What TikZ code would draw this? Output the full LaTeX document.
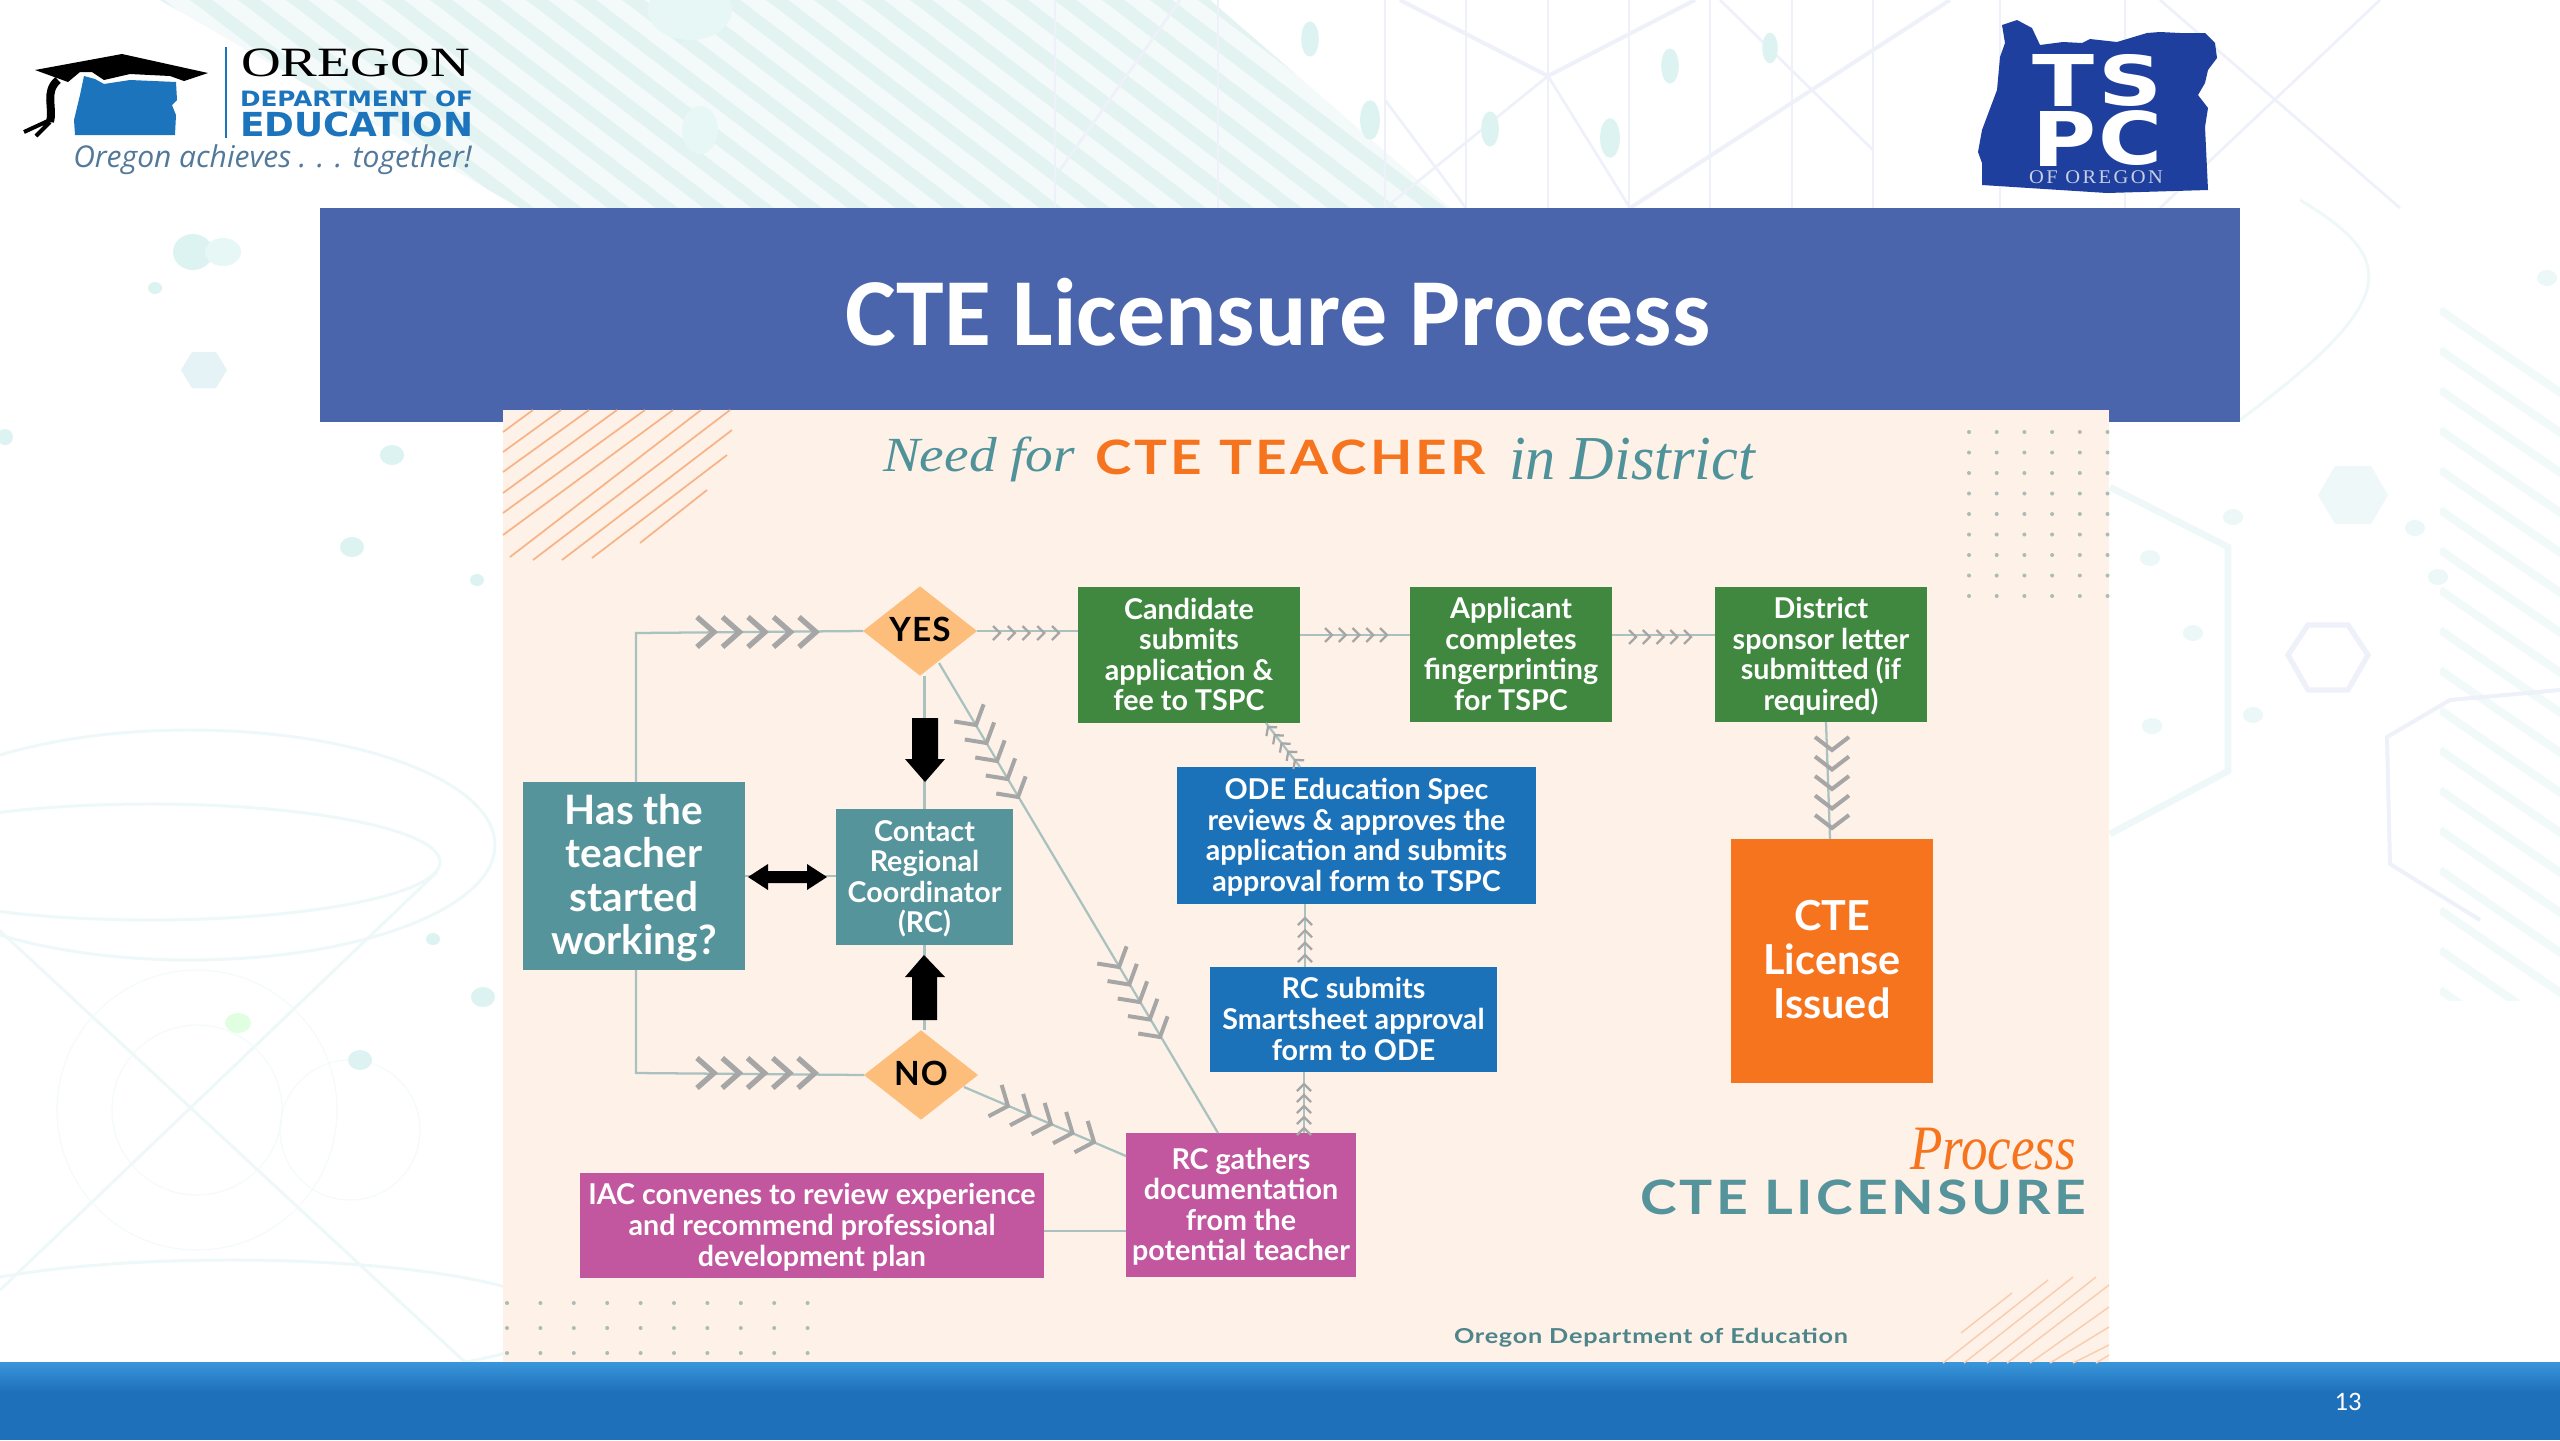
\documentclass[tikz,border=0pt]{standalone}
\usepackage{fontspec}
\usepackage{graphicx}
\usetikzlibrary{shapes.geometric,calc}
\setmainfont{Lato}
\newfontfamily\carlito{Carlito}
\newfontfamily\latowide{Lato}[LetterSpace=6]
\newfontfamily\latomid{Lato}[LetterSpace=3]
\newfontfamily\libserif{Liberation Serif}
\newfontfamily\opensans{Open Sans}
\newfontfamily\dejavu{DejaVu Sans}
\newfontfamily\serifwide{Liberation Serif}[LetterSpace=12]
\definecolor{bandblue}{HTML}{4A65AB}
\definecolor{cream}{HTML}{FDF1E8}
\definecolor{tealbox}{HTML}{56949B}
\definecolor{greenbox}{HTML}{40883F}
\definecolor{bluebox}{HTML}{1B72B9}
\definecolor{magbox}{HTML}{C2579F}
\definecolor{orangebox}{HTML}{F7741F}
\definecolor{diam}{HTML}{FDBE7C}
\definecolor{linkc}{HTML}{A9C2BF}
\definecolor{chevc}{HTML}{A6A6A6}
\definecolor{hatchA}{HTML}{F8B386}
\definecolor{hatchB}{HTML}{F9CDB0}
\definecolor{dotc}{HTML}{A9BDB6}
\definecolor{barA}{HTML}{3A96DA}
\definecolor{barB}{HTML}{1E70BA}
\definecolor{odeblue}{HTML}{1C74BC}
\definecolor{tspc}{HTML}{1E3F9E}
\definecolor{tagc}{HTML}{52799A}
\definecolor{stripe}{HTML}{E2F3F1}
\definecolor{stripeb}{HTML}{F4FAF9}
\definecolor{bgline}{HTML}{EEF8F8}
\definecolor{bgblob}{HTML}{DDF3F2}
\definecolor{bglav}{HTML}{EEF1FA}
\definecolor{tealtext}{HTML}{4F9299}
\newcommand{\boxn}[7]{%
  \pgfmathsetmacro{\bw}{(#4-#2)*0.75}%
  \pgfmathsetmacro{\bh}{(#5-#3)*0.75}%
  \node[#6,minimum width=\bw pt,minimum height=\bh pt] (#1) at ({(#2+#4)/2},{(#3+#5)/2}) {#7};}
\newcommand{\fittext}[7]{%
  \pgfmathsetmacro{\bw}{(#4-#2)*0.75}%
  \pgfmathsetmacro{\bh}{(#5-#3)*0.75}%
  \node[inner sep=0pt,outer sep=0pt,anchor=north west,#6] (#1) at (#2,#3) {\resizebox*{\bw pt}{\bh pt}{#7}};}
\newcommand{\tl}[1]{\rule{0pt}{20pt}#1\rule[-5pt]{0pt}{5pt}}
\newcommand{\tlb}[1]{\rule{0pt}{26pt}#1\rule[-6pt]{0pt}{6pt}}
\newcommand{\chevs}[6]{% from, to, count-1, depth, half width, style
  \path let \p1=($(#2)-(#1)$), \n1={atan2(\y1,\x1)} in \pgfextra{\xdef\chang{\n1}};
  \foreach \ci in {0,...,#3}{
    \pgfmathsetmacro{\ct}{\ci/#3}
    \draw[#6,shift={($(#1)!\ct!(#2)$)},rotate=\chang] (-#4,#5) -- (0,0) -- (-#4,-#5);
  }}
\tikzset{
  bigchev/.style={draw=chevc,line width=4pt,line join=miter},
  smallchev/.style={draw=chevc,line width=1.7pt},
  midchev/.style={draw=chevc,line width=3pt},
  link/.style={draw=linkc,line width=1.7pt},
  boxbase/.style={rectangle,inner sep=0pt,outer sep=0pt,align=center,text=white,
     font=\bfseries\fontsize{21.5}{22.9}\selectfont},
  tealn/.style={boxbase,fill=tealbox},
  greenn/.style={boxbase,fill=greenbox},
  bluen/.style={boxbase,fill=bluebox},
  magn/.style={boxbase,fill=magbox},
  decide/.style={diamond,aspect=1,inner sep=0pt,outer sep=0pt,fill=diam,text=black,
     minimum width=85.5pt,minimum height=67pt,font=\latomid\bfseries\fontsize{25}{26}\selectfont},
  hatcha/.style={draw=hatchA,line width=1.3pt},
  hatchb/.style={draw=hatchB,line width=1.1pt},
  bgl/.style={draw=bgline,line width=2.2pt},
  bgthin/.style={draw=bgline!70,line width=.8pt},
}
\begin{document}
\begin{tikzpicture}[x=0.75pt,y=-0.75pt]
\useasboundingbox (0,0) rectangle (2560,1440);
\fill[white] (0,0) rectangle (2560,1440);
% ---------- faint background ----------
\begin{scope}
\clip (160,0) -- (1210,0) -- (1450,208) -- (520,208) -- cycle;
\fill[stripeb] (0,0) rectangle (1500,208);
\foreach \i in {0,...,34}{\draw[draw=stripe,line width=10pt] ({-100+48*\i},-10) -- ({-100+48*\i+300},218);}
\end{scope}
\foreach \x in {1055,1218,1385,1466,1548,1629,1710,1792,1873,2000,2125}{\draw[draw=bglav,line width=1pt] (\x,0)--(\x,208);}
\draw[draw=bglav,line width=3pt] (1400,0)--(1548,76)--(1695,0);
\draw[draw=bglav,line width=2pt] (1548,76)--(1630,208) (1548,76)--(1385,208) (1385,100)--(1466,208) (1180,0)--(1060,170);
\draw[draw=bglav,line width=3pt] (1950,0)--(1630,208);
\draw[draw=bglav,line width=2pt] (1720,0)--(1873,150) (2160,0)--(2400,208) (2380,0)--(2160,208);
\foreach \p/\r in {680/6,1310/8,1370/9,1490/8,1610/9,1670/8,1770/7}{\fill[bgblob] (\p,{30+mod(\p,17)*9}) ellipse (\r*1.1 and \r*2.2);}
\fill[bgblob!70!white] (690,10) ellipse (42 and 30);
\fill[bgblob!70!white] (700,130) ellipse (18 and 24);
% left side
\draw[bgl] (190,845) ellipse (305 and 115);
\draw[bgl] (150,862) ellipse (290 and 58);
\draw[bgl] (0,931) -- (467,1364);
\draw[bgl] (0,1290) -- (437,872);
\draw[bgthin] (197,1110) circle (140);
\draw[bgthin] (197,1110) circle (85);
\draw[bgthin] (350,1130) circle (70);
\draw[bgl] (230,1320) ellipse (330 and 60);
\fill[bgblob] (193,252) ellipse (20 and 18);
\fill[bgblob!70!white] (223,252) ellipse (18 and 14);
\fill[bgblob] (155,288) ellipse (7 and 6);
\fill[bgblob!50!bglav] (181,370) -- (192,352) -- (216,352) -- (227,370) -- (216,388) -- (192,388) -- cycle;
\fill[bgblob] (5,437) circle (8);
\fill[bgblob] (392,455) ellipse (12 and 10);
\fill[bgblob] (352,547) ellipse (12 and 10);
\fill[bgblob] (477,580) ellipse (7 and 6);
\fill[bgblob] (483,997) ellipse (12 and 10);
\fill[bgblob] (360,1060) ellipse (12 and 10);
\fill[green!12!white] (238,1023) ellipse (13 and 10);
\fill[bgblob] (433,939) ellipse (7 and 6);
% right side
\begin{scope}
\clip (2440,250) rectangle (2560,1000);
\foreach \i in {0,...,17}{\draw[draw=bgline!80,line width=6pt] (2440,{310+40*\i}) -- (2600,{420+40*\i});}
\end{scope}
\draw[draw=bgline,line width=5pt] (2110,487) -- (2228,547) -- (2228,771) -- (2110,834);
\fill[bgline] (2318,495) -- (2335,466) -- (2371,466) -- (2388,495) -- (2371,524) -- (2335,524) -- cycle;
\draw[draw=bglav,line width=4pt] (2288,655) -- (2308,625) -- (2348,625) -- (2368,655) -- (2348,690) -- (2308,690) -- cycle;
\draw[draw=bglav,line width=3pt] (2560,690) -- (2450,700) -- (2387,737) -- (2390,864) -- (2480,920);
\draw[bgl] (2300,200) .. controls (2400,260) and (2400,300) .. (2240,420);
\foreach \x/\y in {2150/558,2193/633,2152/726,2253/715,2233/517,2415/528,2438/577,2547/278}{\fill[bgblob!60!white] (\x,\y) ellipse (10 and 8);}
% ---------- slide furniture ----------
\boxn{band}{320}{208}{2240}{422}{rectangle,fill=bandblue,inner sep=0pt}{}
\node[inner sep=0pt,text=white,font=\carlito\bfseries\fontsize{72}{80}\selectfont] (title) at (1278,312) {CTE Licensure Process};
\boxn{panel}{503}{410}{2109}{1364}{rectangle,fill=cream,inner sep=0pt}{}
\shade[top color=barA,bottom color=barB] (0,1362) rectangle (2560,1392);
\fill[barB] (0,1392) rectangle (2560,1440);
\node[inner sep=0pt,text=white,font=\carlito\fontsize{20}{22}\selectfont] (pageno) at (2348,1402) {13};
% ---------- ODE logo ----------
\fill[black] (35,70) -- (122,54) -- (208,73) -- (184,81) -- (170,76) -- (130,74) -- (104,80) -- (92,72) -- (80,72) -- (68,82) -- (57,78) -- cycle;
\draw[black,line width=6pt] (58,80) .. controls (44,92) and (54,108) .. (50,122);
\draw[black,line width=3pt] (50,120) -- (24,132) (50,122) -- (36,136);
\fill[odeblue] (84,76) -- (95,79) -- (104,84) -- (130,80) -- (176,82) -- (177,100) -- (172,105) -- (176,115) -- (175,135) -- (75,135) -- (74,120) -- (80,95) -- cycle;
\draw[odeblue,line width=1.4pt] (226,47) -- (226,138);
\fittext{oregon}{241}{49}{470}{77}{text=black}{\libserif OREGON}
\fittext{deptof}{240}{91}{473}{107}{text=odeblue}{\dejavu\bfseries DEPARTMENT OF}
\fittext{educ}{240}{112}{473}{137}{text=odeblue}{\dejavu\bfseries EDUCATION}
\node[inner sep=0pt,anchor=west,text=tagc,font=\opensans\itshape\fontsize{22.5}{24}\selectfont] (tagline) at (73,160) {Oregon achieves . . . together!};
% ---------- TSPC logo ----------
\fill[tspc] (2002,25) -- (2017,20) -- (2032,28) -- (2040,45) -- (2063,42) -- (2082,43) -- (2090,39) -- (2117,42) -- (2147,33) -- (2160,32) -- (2180,33) -- (2205,33) -- (2215,43) -- (2217,58) -- (2208,70) -- (2205,83) -- (2198,95) -- (2208,108) -- (2205,127) -- (2208,190) -- (2107,193) -- (1982,185) -- (1982,163) -- (1978,152) -- (1982,130) -- (1997,90) -- (2000,57) -- (2005,43) -- cycle;
\fittext{tspcT}{2032}{54}{2094}{106}{text=white}{\dejavu\bfseries T}
\fittext{tspcS}{2098}{54}{2162}{106}{text=white}{\dejavu\bfseries S}
\fittext{tspcP}{2032}{111}{2096}{166}{text=white}{\dejavu\bfseries P}
\fittext{tspcC}{2098}{111}{2162}{166}{text=white}{\dejavu\bfseries C}
\fittext{tspcOf}{2029}{171}{2163}{184}{text=tspc!25!white}{\serifwide OF OREGON}
% ---------- panel decoration ----------
\foreach \a/\b/\c/\d in {503/432/533/410,503/452/561/410,503/472/589/410,503/493/617/410,503/513/645/410,503/535/673/410,510/557/701/410,533/560/730/410,562/560/732/430,592/558/727/455,640/543/707/490}{\draw[hatcha] (\a,\b) -- (\c,\d);}
\foreach \a/\b/\c/\d in {1961/1333/2012/1293,1943/1363/2048/1280,1964/1363/2073/1277,1987/1363/2096/1277,2007/1363/2109/1285,2030/1363/2109/1307,2050/1363/2109/1327,2073/1363/2109/1345,2096/1363/2109/1355}{\draw[hatchb] (\a,\b) -- (\c,\d);}
\foreach \i in {0,...,5}{\foreach \j in {0,...,8}{\fill[dotc] ({1969+27.7*\i},{432+20.5*\j}) circle (2);}}
\foreach \i in {0,...,9}{\foreach \j in {0,1,2}{\fill[dotc] ({507+33.4*\i},{1303+25*\j}) circle (2);}}
\fittext{needfor}{883}{437}{1075}{482}{text=tealtext}{\libserif\itshape Need for}
\fittext{cteteach}{1095}{440}{1486}{475}{text=orangebox}{\latowide\bfseries CTE TEACHER}
\fittext{indist}{1509}{438}{1755}{480}{text=tealtext}{\libserif\itshape in District}
\fittext{procword}{1910}{1128}{2076}{1170}{text=orangebox}{\libserif\itshape Process}
\fittext{ctelic}{1640}{1180}{2086}{1215}{text=tealbox}{\latowide\bfseries CTE LICENSURE}
\fittext{odefoot}{1454}{1328}{1848}{1347}{text=tealbox!90!black}{\latomid\bfseries Oregon Department of Education}
% ---------- nodes ----------
\boxn{teacher}{523}{782}{745}{970}{tealn,font=\bfseries\fontsize{30.4}{32.6}\selectfont}{\tlb{Has the\\teacher\\started\\working?}}
\boxn{contact}{836}{809}{1013}{945}{tealn}{\tl{Contact\\Regional\\Coordinator\\(RC)}}
\node[decide] (yes) at (920,631) {\raisebox{2pt}{YES}};
\node[decide] (no) at (921,1075) {\raisebox{2pt}{NO}};
\boxn{cand}{1078}{587}{1300}{723}{greenn}{\tl{Candidate\\submits\\application \&\\fee to TSPC}}
\boxn{appl}{1410}{587}{1612}{722}{greenn}{\tl{Applicant\\completes\\fingerprinting\\for TSPC}}
\boxn{dist}{1715}{587}{1927}{722}{greenn}{\tl{District\\sponsor letter\\submitted (if\\required)}}
\boxn{odeb}{1177}{767}{1536}{904}{bluen}{\tl{ODE Education Spec\\reviews \& approves the\\application and submits\\approval form to TSPC}}
\boxn{rcsub}{1210}{967}{1497}{1072}{bluen}{\tl{RC submits\\Smartsheet approval\\form to ODE}}
\boxn{rcgath}{1126}{1133}{1356}{1277}{magn}{\tl{RC gathers\\documentation\\from the\\potential teacher}}
\boxn{iac}{580}{1173}{1044}{1278}{magn}{\tl{IAC convenes to review experience\\and recommend professional\\development plan}}
\boxn{lic}{1731}{839}{1933}{1083}{boxbase,fill=orangebox,font=\bfseries\fontsize{31}{33}\selectfont}{\tlb{CTE\\License\\Issued}}
% ---------- connectors ----------
\draw[link] (teacher.north -| 636,782) -- (636,633) -- (yes.west);
\draw[link] (teacher.south -| 636,970) -- (636,1073) -- (no.west);
\draw[link] (yes.east) -- (cand.west |- yes.east);
\draw[link] (cand.east |- 0,635) -- (appl.west |- 0,635);
\draw[link] (appl.east |- 0,635) -- (dist.west |- 0,635);
\draw[link] (yes.south -| contact.north) -- (contact.north);
\draw[link] (contact.south) -- (contact.south |- no.north);
\draw[link] (teacher.east) -- (contact.west |- teacher.east);
\coordinate (diagA) at (939,663);
\coordinate (diagB) at (1218,1133);
\draw[link] (diagA) -- (diagB);
\coordinate (noA) at (964,1087);
\coordinate (noB) at (1126,1156);
\draw[link] (noA) -- (noB);
\draw[link] (iac.east |- 0,1231) -- (rcgath.west |- 0,1231);
\draw[link] (1304,1133) -- (1304,1072);
\draw[link] (1305,967) -- (1305,904);
\coordinate (odeA) at (1300,767);
\coordinate (odeB) at (1266,723);
\draw[link] (odeA) -- (odeB);
\draw[link] (1826,722) -- (1830,839);
% chevrons
\coordinate (c1a) at (714,632);\coordinate (c1b) at (816,632);
\chevs{c1a}{c1b}{4}{17}{15}{bigchev}
\coordinate (c2a) at (714,1073);\coordinate (c2b) at (815,1073);
\chevs{c2a}{c2b}{4}{17}{15}{bigchev}
\coordinate (c3a) at (1000,633);\coordinate (c3b) at (1059,633);
\chevs{c3a}{c3b}{4}{7}{7}{smallchev}
\coordinate (c4a) at (1332,635);\coordinate (c4b) at (1387,635);
\chevs{c4a}{c4b}{4}{7}{7}{smallchev}
\coordinate (c5a) at (1636,637);\coordinate (c5b) at (1691,637);
\chevs{c5a}{c5b}{4}{7}{7}{smallchev}
\coordinate (c6a) at (976,725);\coordinate (c6b) at (1018,797);
\chevs{c6a}{c6b}{4}{14}{17}{midchev}
\coordinate (c7a) at (1119,967);\coordinate (c7b) at (1160,1037);
\chevs{c7a}{c7b}{4}{14}{17}{midchev}
\coordinate (c8a) at (1008,1106);\coordinate (c8b) at (1094,1142);
\chevs{c8a}{c8b}{4}{14}{17}{midchev}
\coordinate (c9a) at (1832,750);\coordinate (c9b) at (1832,828);
\chevs{c9a}{c9b}{4}{13}{17}{midchev}
\coordinate (c10a) at (1305,955);\coordinate (c10b) at (1305,918);
\chevs{c10a}{c10b}{3}{7}{7}{smallchev}
\coordinate (c11a) at (1304,1128);\coordinate (c11b) at (1304,1084);
\chevs{c11a}{c11b}{4}{7}{7}{smallchev}
\coordinate (c12a) at (1295,760);\coordinate (c12b) at (1268,727);
\chevs{c12a}{c12b}{4}{6}{7}{smallchev}
% block arrows
\fill[black] (912,718) -- (938,718) -- (938,759) -- (945,759) -- (925,782) -- (905,759) -- (912,759) -- cycle;
\fill[black] (912,1020) -- (937,1020) -- (937,977) -- (945,977) -- (924,955) -- (905,977) -- (912,977) -- cycle;
\fill[black] (748,877) -- (768,864) -- (768,871) -- (807,871) -- (807,864) -- (827,877) -- (807,890) -- (807,883) -- (768,883) -- (768,890) -- cycle;
\end{tikzpicture}
\end{document}
